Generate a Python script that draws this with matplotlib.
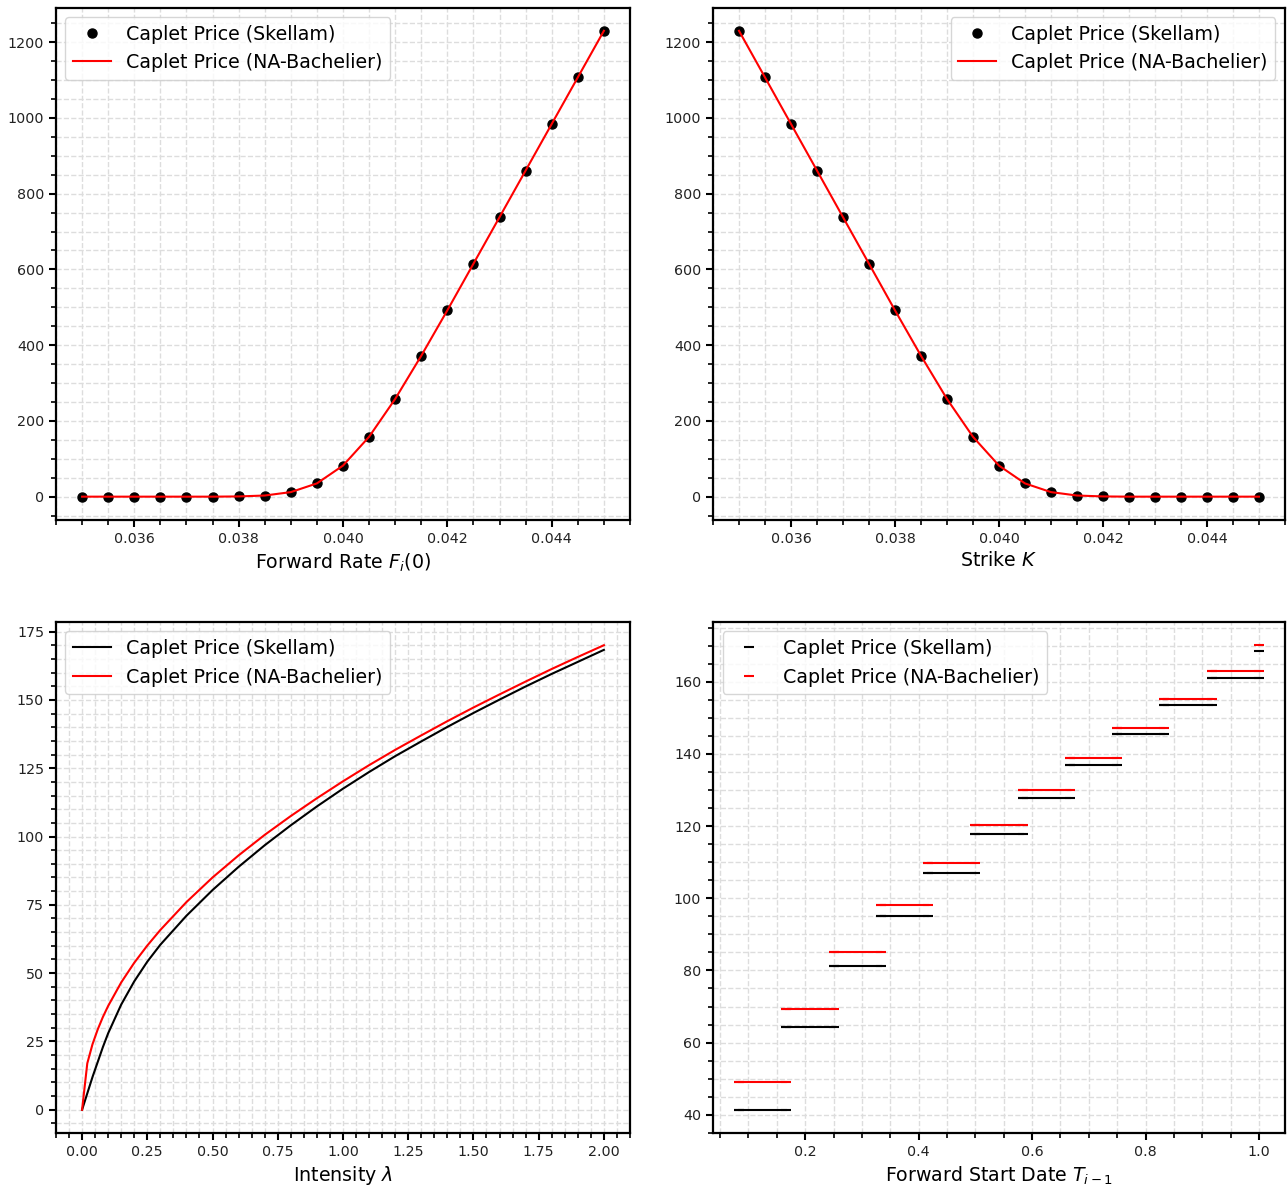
import matplotlib
matplotlib.use('Agg')
import numpy as np
import matplotlib.pyplot as plt

# forward rate / strike grid
rates = [0.035, 0.0355, 0.036, 0.0365, 0.037, 0.0375, 0.038, 0.0385, 0.039, 0.0395, 0.040,
         0.0405, 0.041, 0.0415, 0.042, 0.0425, 0.043, 0.0435, 0.044, 0.0445, 0.045]
price_fwd_skellam = [0, 0, 0, 0, 0, 0, 0.6, 3, 12, 35, 82, 158, 258, 372, 492, 615, 738, 861, 984, 1107, 1230]
price_fwd_bach = [0, 0, 0, 0, 0, 0, 0.6, 3, 12, 35, 82, 158, 258, 372, 492, 615, 738, 861, 984, 1107, 1230]
strikes = rates
price_strike_skellam = [1230, 1107, 984, 861, 738, 615, 492, 372, 258, 158, 82, 35, 12, 3, 0.6, 0, 0, 0, 0, 0, 0]
price_strike_bach = [1230, 1107, 984, 861, 738, 615, 492, 372, 258, 158, 82, 35, 12, 3, 0.6, 0, 0, 0, 0, 0, 0]

# intensity
lam = [0, 0.02, 0.04, 0.06, 0.08, 0.1, 0.15, 0.2, 0.25, 0.3, 0.4, 0.5, 0.6, 0.7, 0.8, 0.9,
       1.0, 1.1, 1.2, 1.3, 1.4, 1.5, 1.6, 1.7, 1.8, 1.9, 2.0]
price_lam_skellam = [0, 6, 12, 17.5, 23, 28, 38.5, 47, 54.2, 60.4, 71, 80.4, 88.9, 96.8, 104.1, 111,
                     117.5, 123.6, 129.4, 134.8, 140.1, 145.2, 150.1, 154.9, 159.5, 163.9, 168.3]
price_lam_bach = [0, 17, 24.0, 29.4, 34.0, 38.0, 46.6, 53.8, 60.1, 65.8, 76.0, 85.0, 93.1, 100.6, 107.5, 114.0,
                  120.2, 126.1, 131.7, 137.0, 142.2, 147.2, 152.0, 156.7, 161.3, 165.7, 170.0]

# forward start date (monthly periods)
T_start = [0.0833, 0.1667, 0.25, 0.3333, 0.4167, 0.5, 0.5833, 0.6667, 0.75, 0.8333, 0.9167, 1.0]
price_T_skellam = [41.4, 64.3, 81.2, 95.0, 106.9, 117.7, 127.7, 136.8, 145.4, 153.4, 160.9, 168.4]
price_T_bach = [49.1, 69.4, 85.0, 98.2, 109.8, 120.3, 129.9, 138.9, 147.3, 155.3, 162.9, 170.1]

plt.rcParams['font.family'] = 'DejaVu Sans'

fig = plt.figure(figsize=(12.87, 11.92), dpi=100)
ax1 = fig.add_axes([0.0435, 0.5638, 0.446, 0.4299])
ax2 = fig.add_axes([0.554, 0.5638, 0.4444, 0.4299])
ax3 = fig.add_axes([0.0435, 0.0495, 0.446, 0.4287])
ax4 = fig.add_axes([0.554, 0.0495, 0.4444, 0.4287])

# 上排: 散點 + 紅線
ax1.plot(rates, price_fwd_skellam, 'o', color='black', markersize=6.5, label='Caplet Price (Skellam)')
ax1.plot(rates, price_fwd_bach, '-', color='red', linewidth=1.5, label='Caplet Price (NA-Bachelier)')
ax1.set_xlabel('Forward Rate $F_i(0)$', fontsize=13.7)

ax2.plot(strikes, price_strike_skellam, 'o', color='black', markersize=6.5, label='Caplet Price (Skellam)')
ax2.plot(strikes, price_strike_bach, '-', color='red', linewidth=1.5, label='Caplet Price (NA-Bachelier)')
ax2.set_xlabel('Strike $K$', fontsize=13.7)

# 下排左: 強度
ax3.plot(lam, price_lam_skellam, '-', color='black', linewidth=1.5, label='Caplet Price (Skellam)')
ax3.plot(lam, price_lam_bach, '-', color='red', linewidth=1.5, label='Caplet Price (NA-Bachelier)')
ax3.set_xlabel('Intensity $\\lambda$', fontsize=13.7)

# 下排右: 分段常數
for i in range(len(T_start) - 1):
    for prices, col in [(price_T_skellam, 'black'), (price_T_bach, 'red')]:
        ax4.plot([T_start[i], T_start[i + 1]], [prices[i], prices[i]], '-', marker='_',
                 color=col, linewidth=1.5, markersize=7, markeredgewidth=1.5)
ax4.plot(T_start, price_T_skellam, '_', color='black', markersize=7, markeredgewidth=1.5,
         label='Caplet Price (Skellam)')
ax4.plot(T_start, price_T_bach, '_', color='red', markersize=7, markeredgewidth=1.5,
         label='Caplet Price (NA-Bachelier)')
ax4.set_xlabel('Forward Start Date $T_{i-1}$', fontsize=13.7)

ax3.set_xticks([0, 0.25, 0.5, 0.75, 1.0, 1.25, 1.5, 1.75, 2.0])

for ax in [ax1, ax2, ax3, ax4]:
    ax.minorticks_on()
    ax.grid(which='both', linestyle='--', color='#dddddd', linewidth=1.0)
    ax.set_axisbelow(True)
    for s in ax.spines.values():
        s.set_linewidth(1.6)
    ax.tick_params(which='major', length=5, width=1.5, labelsize=10.3, labelcolor='#222222')
    ax.tick_params(which='minor', length=3.5, width=1.2)

ax1.legend(loc='upper left', fontsize=13.7)
ax2.legend(loc='upper right', fontsize=13.7)
ax3.legend(loc='upper left', fontsize=13.7)
ax4.legend(loc='upper left', fontsize=13.7)

fig.savefig('out.png', dpi=100)
